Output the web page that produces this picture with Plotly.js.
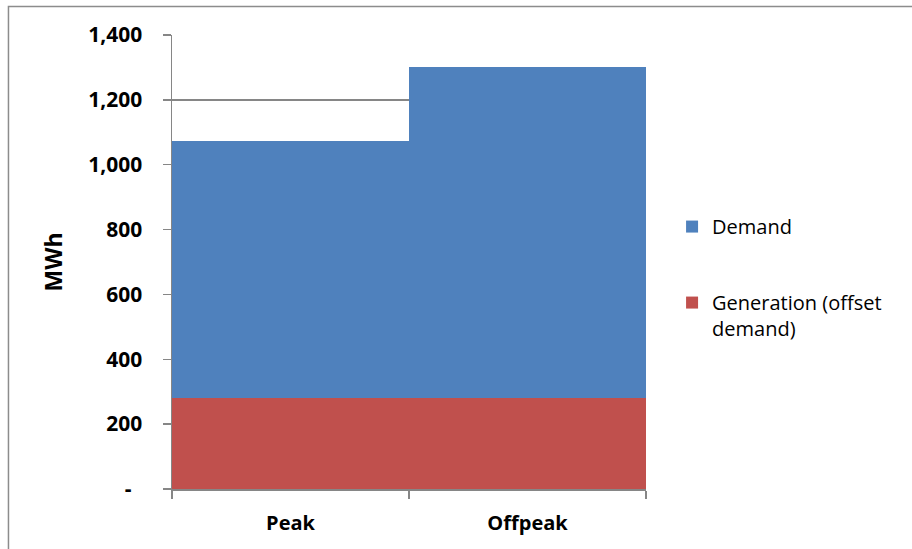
<!DOCTYPE html>
<html>
<head>
<meta charset="utf-8">
<script src="https://cdn.plot.ly/plotly-3.0.1.min.js"></script>
<style>
html,body{margin:0;padding:0;background:#fff;}
#chart{width:912px;height:549px;}
</style>
</head>
<body>
<div id="chart"></div>
<script>
const categories = ["Peak", "Offpeak"];
const demand = [1073, 1300];
const generation = [282, 282];
const yTickVals = [0, 200, 400, 600, 800, 1000, 1200, 1400];
const yTickText = ["-\u00a0\u00a0", "200", "400", "600", "800", "1,000", "1,200", "1,400"];

const traces = [
  {
    type: "bar", name: "Demand", x: categories, y: demand,
    marker: {color: "#4F81BD", line: {width: 0}},
    legendgroup: "a", hoverinfo: "x+y"
  },
  {
    type: "bar", name: "Generation (offset<br>demand)", x: categories, y: generation,
    marker: {color: "#C0504D", line: {width: 0}},
    legendgroup: "b", hoverinfo: "x+y"
  }
];

const gridColor = "#868686";
const layout = {
  width: 912, height: 549,
  margin: {l: 172, r: 266, t: 35, b: 60},
  paper_bgcolor: "#ffffff", plot_bgcolor: "#ffffff",
  barmode: "overlay", bargap: 0,
  font: {family: "'Open Sans', sans-serif", color: "#000"},
  showlegend: true,
  legend: {
    x: 1.055, xanchor: "left", y: 0.621, yanchor: "top",
    font: {size: 20, color: "#000"},
    tracegroupgap: 47, valign: "top",
    traceorder: "grouped", bgcolor: "rgba(0,0,0,0)"
  },
  xaxis: {
    type: "category",
    showgrid: false, zeroline: false,
    showline: true, linecolor: gridColor, linewidth: 1.5,
    ticks: "outside", tickson: "boundaries", ticklen: 8, tickcolor: gridColor, tickwidth: 1.5,
    ticklabelstandoff: 15,
    tickfont: {size: 20, family: "'Open Sans', sans-serif", weight: "bold"},
    fixedrange: true
  },
  yaxis: {
    range: [0, 1400],
    tickvals: yTickVals, ticktext: yTickText,
    showgrid: true, gridcolor: gridColor, gridwidth: 1.5,
    zeroline: false,
    showline: true, linecolor: gridColor, linewidth: 1.5,
    ticks: "outside", ticklen: 8, tickcolor: gridColor, tickwidth: 1.5,
    ticklabelstandoff: 16,
    tickfont: {size: 21, family: "'Open Sans', sans-serif", weight: "bold"},
    title: {text: "<b>MWh</b>", font: {size: 23, family: "'Open Sans', sans-serif"}, standoff: 19},
    fixedrange: true
  },
  shapes: [{
    type: "rect", xref: "paper", yref: "paper",
    x0: -0.345, x1: 1.57, y0: -0.15, y1: 1.0628,
    line: {color: "#8c8c8c", width: 1.5}, layer: "above"
  }]
};

Plotly.newPlot("chart", traces, layout, {displayModeBar: false, staticPlot: true});
</script>
</body>
</html>
